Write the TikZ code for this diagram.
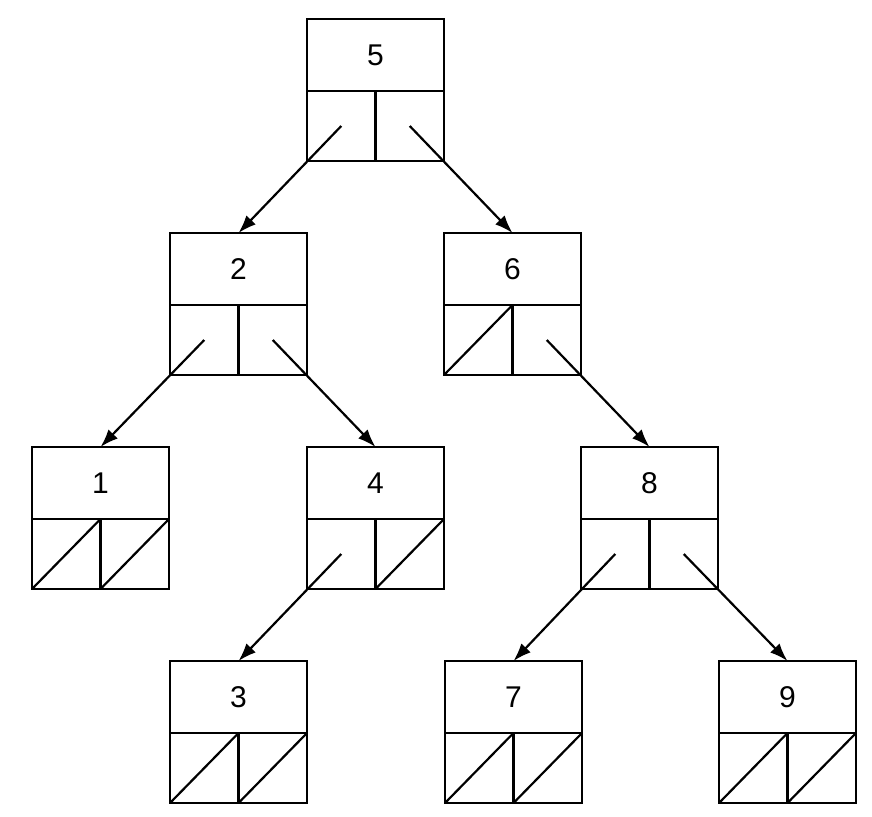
\documentclass[tikz,border=0pt]{standalone}
\usepackage{fontspec}
\setmainfont{Liberation Sans}
\usetikzlibrary{arrows.meta}
\newcommand\tnode[4]{%
  \node[tbox, anchor=north west] (#1) at (#2,-#3) {#4};
  \node[tcell, anchor=north west] (#1l) at (#1.south west) {};
  \node[tcell, anchor=north east] (#1r) at (#1.south east) {};
}
\begin{document}
\begin{tikzpicture}[x=1pt,y=1pt,
  tbox/.style={draw, line width=2.2pt, outer sep=0pt, minimum width=137pt, minimum height=72pt, inner sep=0pt, font=\fontsize{30}{30}\selectfont},
  tcell/.style={draw, line width=2.2pt, outer sep=0pt, minimum width=68.5pt, minimum height=70pt, inner sep=0pt},
  nullp/.style={line width=2.2pt},
  ptr/.style={line width=2.2pt, -{Latex[length=18pt,width=13pt]}}]
\useasboundingbox (0,0) rectangle (872,-816);
\tnode{n5}{307}{19}{5}
\tnode{n2}{170}{233}{2}
\tnode{n6}{444}{233}{6}
\tnode{n1}{32}{447}{1}
\tnode{n4}{307}{447}{4}
\tnode{n8}{581}{447}{8}
\tnode{n3}{170}{661}{3}
\tnode{n7}{445}{661}{7}
\tnode{n9}{719}{661}{9}
% pointers
\draw[ptr] (n5l.center) -- (n2.north);
\draw[ptr] (n5r.center) -- (n6.north);
\draw[ptr] (n2l.center) -- (n1.north);
\draw[ptr] (n2r.center) -- (n4.north);
\draw[ptr] (n6r.center) -- (n8.north);
\draw[ptr] (n4l.center) -- (n3.north);
\draw[ptr] (n8l.center) -- (n7.north);
\draw[ptr] (n8r.center) -- (n9.north);
% null pointers
\draw[nullp] (n6l.south west) -- (n6l.north east);
\draw[nullp] (n1l.south west) -- (n1l.north east);
\draw[nullp] (n1r.south west) -- (n1r.north east);
\draw[nullp] (n4r.south west) -- (n4r.north east);
\draw[nullp] (n3l.south west) -- (n3l.north east);
\draw[nullp] (n3r.south west) -- (n3r.north east);
\draw[nullp] (n7l.south west) -- (n7l.north east);
\draw[nullp] (n7r.south west) -- (n7r.north east);
\draw[nullp] (n9l.south west) -- (n9l.north east);
\draw[nullp] (n9r.south west) -- (n9r.north east);
\end{tikzpicture}
\end{document}
